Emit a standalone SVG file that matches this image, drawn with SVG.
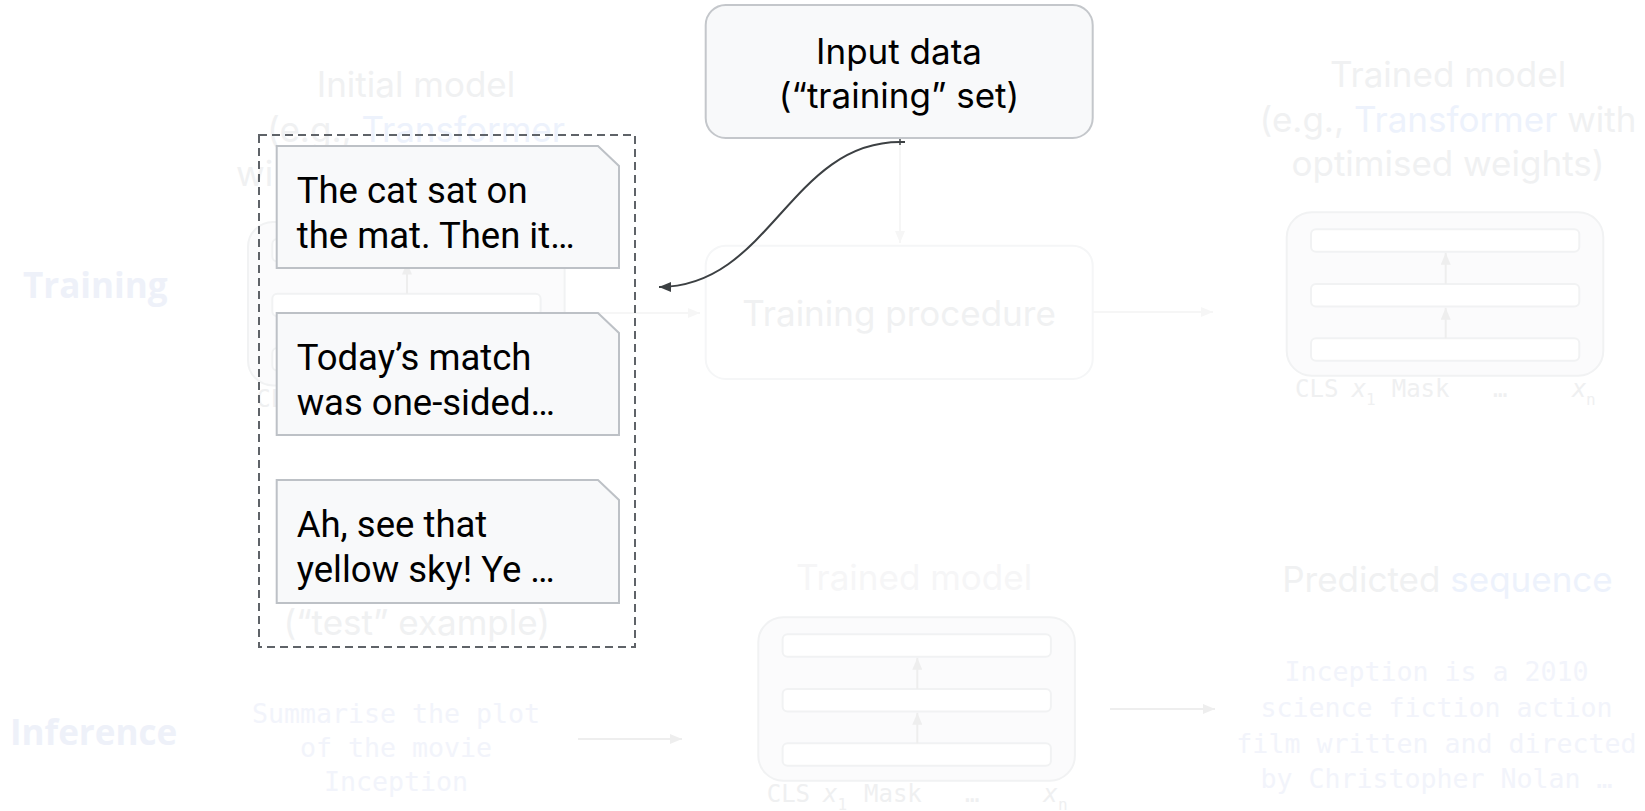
<svg xmlns="http://www.w3.org/2000/svg" xmlns:xlink="http://www.w3.org/1999/xlink" width="1645" height="811" viewBox="0 0 1645 811">
  <style>
    .title { font-family: Inter, "Open Sans", sans-serif; font-size: 35px; text-anchor: middle; }
    .faint { fill: #f0f1f2; }
    .faintblue { fill: #edf2fc; }
    .stage { font-family: "Open Sans", Inter, sans-serif; font-size: 35px; font-weight: bold; fill: #eef1f9; }
    .mono { font-family: "DejaVu Sans Mono", "Liberation Mono", monospace; font-size: 26.6px; fill: #f2f4fb; text-anchor: middle; }
    .tok { font-family: "DejaVu Sans Mono", "Liberation Mono", monospace; font-size: 24px; fill: #eff0f1; }
    .sub { font-family: "DejaVu Sans Mono", "Liberation Mono", monospace; font-size: 16px; fill: #eff0f1; }
    .outer { fill: #fbfbfc; stroke: #f1f2f3; stroke-width: 2; }
    .layer { fill: #ffffff; stroke: #f1f2f3; stroke-width: 2; }
    .ghost { stroke: #eeeeee; stroke-width: 2; fill: none; }
    .ghostlight { stroke: #f6f6f6; stroke-width: 2; fill: none; }
    .card { fill: #f8f9fa; stroke: #bdc1c6; stroke-width: 2; }
    .cardtext { font-family: Roboto, "Liberation Sans", sans-serif; font-size: 36.5px; fill: #000000; }
    .main { font-family: Inter, "Open Sans", sans-serif; font-size: 35px; fill: #000000; text-anchor: middle; }
  </style>
  <defs>
    <marker id="head" viewBox="0 0 12 10" refX="12" refY="5" markerUnits="userSpaceOnUse" markerWidth="12" markerHeight="10" orient="auto">
      <path d="M0,0 L12,5 L0,10 z" fill="#3c4043"/>
    </marker>
    <marker id="ghosthead" viewBox="0 0 12 10" refX="12" refY="5" markerUnits="userSpaceOnUse" markerWidth="12" markerHeight="10" orient="auto">
      <path d="M0,0 L12,5 L0,10 z" fill="#eeeeee"/>
    </marker>
    <marker id="ghostheadlight" viewBox="0 0 12 10" refX="12" refY="5" markerUnits="userSpaceOnUse" markerWidth="12" markerHeight="10" orient="auto">
      <path d="M0,0 L12,5 L0,10 z" fill="#f6f6f6"/>
    </marker>
    <!-- stacked transformer block, origin at its top-left corner -->
    <g id="block">
      <rect class="outer" x="0" y="0" width="316.6" height="163.4" rx="25"/>
      <rect class="layer" x="24.3" y="17" width="268.3" height="22.5" rx="5"/>
      <rect class="layer" x="24.3" y="71.7" width="268.3" height="22.5" rx="5"/>
      <rect class="layer" x="24.3" y="126" width="268.3" height="22.5" rx="5"/>
      <path class="ghost" d="M159 126 V95.5" marker-end="url(#ghosthead)"/>
      <path class="ghost" d="M159 71.7 V40.5" marker-end="url(#ghosthead)"/>
    </g>
  </defs>

  <!-- background stages -->
  <g id="stage-labels">
    <text class="stage" x="23" y="298">Training</text>
    <text class="stage" x="10" y="745">Inference</text>
  </g>

  <g id="initial-model">
    <text class="title faint" x="416" y="97">Initial model</text>
    <text class="title faint" x="416" y="142">(e.g., <tspan class="faintblue">Transformer</tspan></text>
    <text class="title faint" x="236" y="186" style="text-anchor:start">wi</text>
    <use xlink:href="#block" x="248" y="222"/>
    <text class="tok" x="256.3" y="406.7">CL</text>
  </g>

  <g id="training-procedure">
    <rect x="705.7" y="245.7" width="387" height="133.3" rx="20" fill="#ffffff" stroke="#f5f6f7" stroke-width="2"/>
    <text class="title faint" x="899" y="326">Training procedure</text>
  </g>

  <g id="trained-model">
    <text class="title faint" x="1448" y="87">Trained model</text>
    <text class="title faint" x="1448" y="132">(e.g., <tspan class="faintblue">Transformer</tspan> with</text>
    <text class="title faint" x="1448" y="176">optimised weights)</text>
    <use xlink:href="#block" x="1286.7" y="212.3"/>
    <text class="tok" x="1295" y="396.7">CLS</text>
    <text class="tok" x="1351.7" y="396.7" font-style="italic">x</text>
    <text class="sub" x="1366" y="405">1</text>
    <text class="tok" x="1391.7" y="396.7">Mask</text>
    <text class="tok" x="1493" y="396.7">…</text>
    <text class="tok" x="1572" y="396.7" font-style="italic">x</text>
    <text class="sub" x="1586" y="405">n</text>
  </g>

  <g id="test-input">
    <text class="title faint" x="416.7" y="635">(“test” example)</text>
    <text class="mono" x="396" y="723">Summarise the plot</text>
    <text class="mono" x="396" y="757">of the movie</text>
    <text class="mono" x="396" y="791">Inception</text>
  </g>

  <g id="inference-model">
    <text class="title" x="914" y="590" fill="#f6f6f7">Trained model</text>
    <use xlink:href="#block" x="758.3" y="617.3"/>
    <text class="tok" x="766.7" y="801.7">CLS</text>
    <text class="tok" x="823" y="801.7" font-style="italic">x</text>
    <text class="sub" x="837.5" y="810">1</text>
    <text class="tok" x="864" y="801.7">Mask</text>
    <text class="tok" x="965" y="801.7">…</text>
    <text class="tok" x="1043.3" y="801.7" font-style="italic">x</text>
    <text class="sub" x="1058" y="810">n</text>
  </g>

  <g id="predicted-sequence">
    <text class="title faint" x="1447.5" y="591.7">Predicted <tspan class="faintblue">sequence</tspan></text>
    <text class="mono" x="1436.5" y="681">Inception is a 2010</text>
    <text class="mono" x="1436.5" y="716.5">science fiction action</text>
    <text class="mono" x="1436.5" y="752.5">film written and directed</text>
    <text class="mono" x="1436.5" y="788">by Christopher Nolan …</text>
  </g>

  <!-- connectors -->
  <g id="connectors">
    <path class="ghostlight" d="M564 313 H700" marker-end="url(#ghostheadlight)"/>
    <path class="ghostlight" d="M1093 312 H1213" marker-end="url(#ghostheadlight)"/>
    <path class="ghostlight" d="M900 140 V243" marker-end="url(#ghostheadlight)"/>
    <path class="ghost" d="M578 739 H682" marker-end="url(#ghosthead)"/>
    <path class="ghost" d="M1110 709 H1215" marker-end="url(#ghosthead)"/>
    <path d="M905 142 H900 C790 142 770 287 659 287" fill="none" stroke="#3c4043" stroke-width="2" marker-end="url(#head)"/>
    <path d="M900 138 V145" fill="none" stroke="#3c4043" stroke-width="1.5"/>
  </g>

  <!-- training set: dashed collection of documents -->
  <g id="training-set">
    <rect x="259" y="135" width="376" height="512" fill="none" stroke="#5f6368" stroke-width="2" stroke-dasharray="8 5"/>
  </g>

  <g id="doc-1">
    <path class="card" d="M276.7 146 H598 L619 166 V268 H276.7 Z"/>
    <text class="cardtext" x="296.7" y="203">The cat sat on</text>
    <text class="cardtext" x="296.7" y="248">the mat. Then it…</text>
  </g>
  <g id="doc-2">
    <path class="card" d="M276.7 313 H598 L619 333 V435 H276.7 Z"/>
    <text class="cardtext" x="296.7" y="370">Today’s match</text>
    <text class="cardtext" x="296.7" y="415">was one-sided…</text>
  </g>
  <g id="doc-3">
    <path class="card" d="M276.7 480 H598 L619 500 V603 H276.7 Z"/>
    <text class="cardtext" x="296.7" y="537">Ah, see that</text>
    <text class="cardtext" x="296.7" y="582">yellow sky! Ye …</text>
  </g>

  <g id="input-data">
    <rect x="705.7" y="5" width="387" height="133" rx="20" fill="#f8f9fa" stroke="#c4c7cb" stroke-width="2"/>
    <text class="main" x="899" y="63.5">Input data</text>
    <text class="main" x="899" y="108">(“training” set)</text>
  </g>
</svg>
